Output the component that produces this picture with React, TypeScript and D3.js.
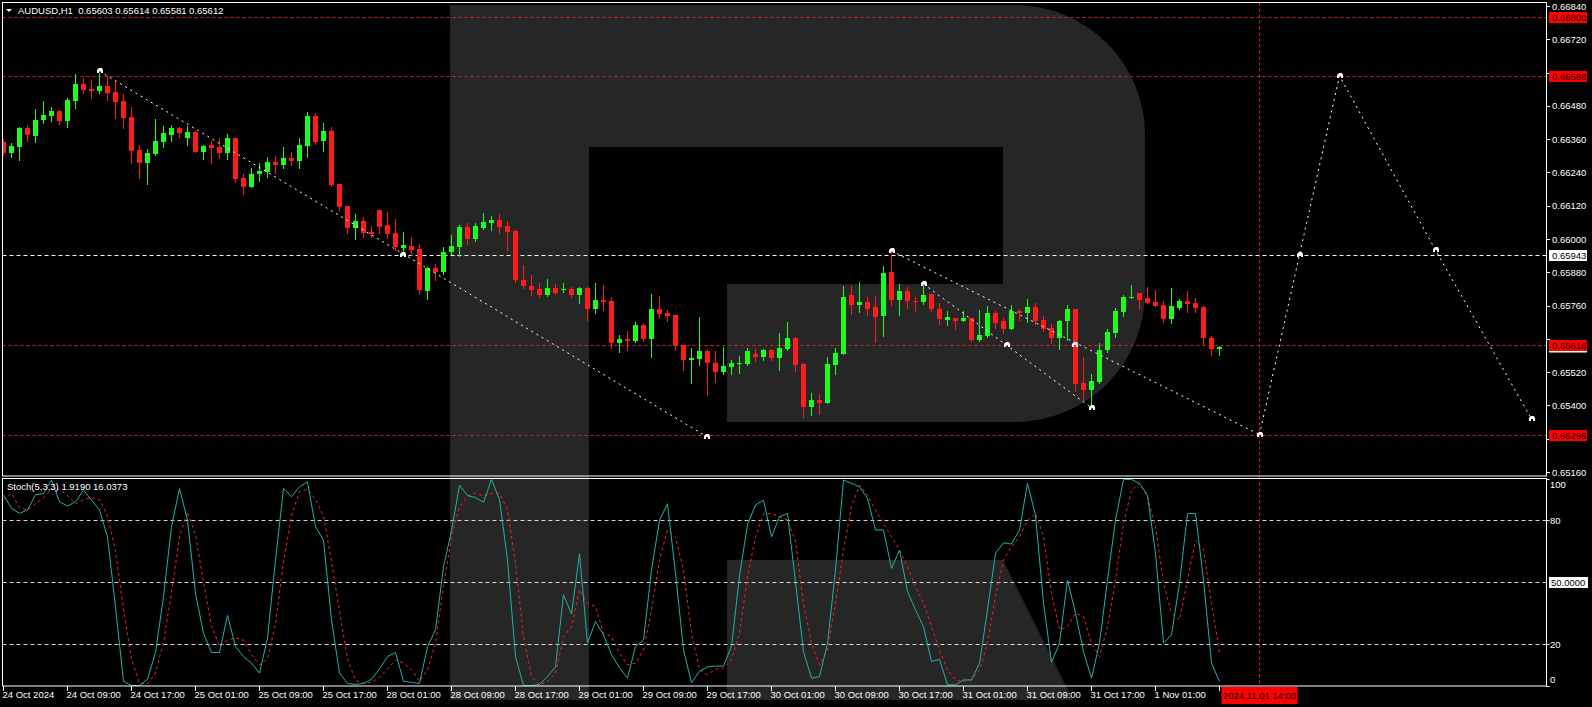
import React from "react";
import * as d3 from "d3";

const W = 1592;
const H = 707;

const opens = [0.6635,0.6631,0.66331,0.664,0.66371,0.66429,0.66443,0.66461,0.66425,0.66497,0.66559,0.66541,0.66533,0.66551,0.6653,0.66497,0.6644,0.66321,0.66274,0.66306,0.6635,0.66375,0.664,0.66364,0.66386,0.66314,0.66339,0.66331,0.6631,0.66364,0.6622,0.66187,0.66234,0.66241,0.66277,0.66267,0.66292,0.66281,0.66335,0.66443,0.66353,0.66389,0.66198,0.66119,0.6604,0.66065,0.66025,0.66104,0.6605,0.66022,0.65968,0.65975,0.65964,0.65813,0.65896,0.65881,0.65953,0.65971,0.66043,0.66,0.6604,0.66058,0.66068,0.66047,0.66029,0.65852,0.65831,0.6582,0.65798,0.65823,0.65816,0.6582,0.65798,0.65823,0.65748,0.6578,0.65777,0.65625,0.6564,0.65632,0.6569,0.6564,0.65748,0.65733,0.65726,0.65618,0.65564,0.65568,0.65596,0.65553,0.65521,0.65539,0.6555,0.6555,0.65586,0.65575,0.656,0.65571,0.65604,0.65643,0.6555,0.65395,0.6542,0.65409,0.65546,0.65586,0.65798,0.65762,0.65773,0.65755,0.65723,0.65881,0.6578,0.65813,0.65777,0.65773,0.65802,0.65748,0.65708,0.65715,0.65705,0.65715,0.65636,0.6565,0.65733,0.65705,0.65676,0.65741,0.65733,0.65755,0.65708,0.65679,0.65643,0.65705,0.65748,0.65481,0.65456,0.65485,0.656,0.65661,0.65737,0.65787,0.65805,0.65787,0.65773,0.65762,0.65712,0.65751,0.65777,0.65769,0.65755,0.65643,0.65603];
const highs = [0.6636,0.66346,0.66405,0.6641,0.66468,0.66497,0.66476,0.66465,0.66508,0.66595,0.6658,0.66573,0.666,0.66587,0.66569,0.66523,0.66476,0.66339,0.66324,0.66432,0.66407,0.66411,0.66404,0.66407,0.66389,0.66339,0.66353,0.66364,0.66378,0.66364,0.66234,0.66256,0.66274,0.66295,0.66299,0.66331,0.66314,0.66364,0.66458,0.66454,0.66418,0.66404,0.66198,0.66119,0.6609,0.66079,0.66047,0.66104,0.66097,0.66072,0.66025,0.66007,0.65982,0.65899,0.6591,0.65971,0.66014,0.6605,0.66058,0.66058,0.66094,0.66083,0.6609,0.66065,0.66032,0.65906,0.6587,0.65841,0.65856,0.65838,0.65841,0.65827,0.65827,0.65827,0.65841,0.65834,0.65791,0.65654,0.65668,0.65701,0.65694,0.65802,0.65795,0.65744,0.65726,0.65618,0.65607,0.65719,0.65604,0.65596,0.65611,0.65564,0.65578,0.65607,0.65604,0.65604,0.65604,0.65661,0.65701,0.65647,0.65553,0.65445,0.65441,0.65575,0.65607,0.65831,0.65831,0.65845,0.65791,0.65795,0.65903,0.65957,0.65838,0.65827,0.65791,0.65834,0.65802,0.65769,0.65741,0.65715,0.65741,0.65715,0.65744,0.65759,0.65741,0.65715,0.65762,0.65748,0.65784,0.65769,0.65723,0.65694,0.65708,0.65762,0.65748,0.65575,0.65514,0.65625,0.65676,0.65751,0.65798,0.65834,0.65805,0.65827,0.65816,0.65777,0.65823,0.65784,0.65813,0.65787,0.65759,0.6565,0.65614];
const lows = [0.66303,0.66295,0.66285,0.66353,0.6635,0.66418,0.66425,0.66414,0.66404,0.66472,0.66526,0.66508,0.66526,0.66501,0.66436,0.664,0.66274,0.6622,0.66198,0.66303,0.66331,0.66353,0.66368,0.66339,0.66314,0.66288,0.66274,0.66292,0.66288,0.66205,0.66162,0.66187,0.66209,0.66223,0.66238,0.66256,0.66267,0.66256,0.66295,0.66342,0.66317,0.66191,0.66104,0.66022,0.66,0.66007,0.66007,0.66022,0.66004,0.6596,0.65942,0.65942,0.65802,0.65784,0.65852,0.65874,0.65946,0.65939,0.65982,0.65993,0.66036,0.66032,0.66022,0.6596,0.65845,0.65823,0.65798,0.65791,0.65795,0.65802,0.65809,0.65791,0.65769,0.65708,0.65733,0.65744,0.65607,0.65593,0.656,0.65629,0.65632,0.65575,0.65715,0.65705,0.656,0.65528,0.65481,0.65546,0.65438,0.65485,0.65514,0.65514,0.65517,0.65546,0.65561,0.65564,0.65564,0.65528,0.656,0.65524,0.65359,0.65366,0.6537,0.65409,0.65514,0.65586,0.6573,0.65737,0.65726,0.65629,0.65651,0.65762,0.65726,0.65751,0.65741,0.65766,0.65741,0.65694,0.6569,0.65676,0.65705,0.65632,0.65632,0.65647,0.65679,0.65661,0.65676,0.65708,0.65701,0.65694,0.65669,0.65625,0.65604,0.65636,0.65452,0.6542,0.65391,0.65481,0.65593,0.65647,0.65723,0.65787,0.65748,0.65769,0.65759,0.65701,0.65697,0.65748,0.65737,0.65737,0.65618,0.65581,0.65581];
const closes = [0.66309,0.66335,0.664,0.66375,0.66429,0.66447,0.66461,0.66425,0.66501,0.66559,0.66537,0.66533,0.66551,0.66526,0.66494,0.66436,0.66317,0.66274,0.6631,0.66353,0.66382,0.664,0.66382,0.66386,0.66314,0.66335,0.66328,0.6631,0.66364,0.66216,0.66187,0.66234,0.66245,0.66277,0.66267,0.66292,0.66281,0.66339,0.66443,0.6635,0.66389,0.66195,0.66115,0.6604,0.66065,0.66022,0.66018,0.66043,0.66018,0.65971,0.65978,0.6596,0.65816,0.65896,0.65881,0.65953,0.65975,0.66043,0.66,0.66047,0.66061,0.66068,0.66043,0.66025,0.65852,0.65831,0.65816,0.65798,0.65823,0.65805,0.6582,0.65798,0.65823,0.65748,0.6578,0.65773,0.65625,0.6564,0.65632,0.6569,0.6564,0.65748,0.6573,0.65723,0.65614,0.65564,0.65571,0.65596,0.65553,0.65521,0.65542,0.65553,0.65553,0.65596,0.65575,0.656,0.65571,0.65607,0.65643,0.65546,0.65395,0.6542,0.65409,0.6555,0.65589,0.65791,0.65762,0.65773,0.65748,0.65719,0.65877,0.6578,0.65813,0.65777,0.65773,0.65798,0.65748,0.65712,0.65719,0.65705,0.65715,0.65636,0.65654,0.65733,0.65697,0.65676,0.65741,0.65733,0.65755,0.65705,0.65676,0.65643,0.65705,0.65748,0.65478,0.65456,0.65488,0.656,0.65665,0.65741,0.65791,0.65791,0.6578,0.65769,0.65759,0.65712,0.65759,0.65777,0.65766,0.65751,0.65643,0.65603,0.65612];

const stochK = [92.3,85.8,83.4,85,92.3,93,99.5,89,86.9,89,94.6,89.8,85,72,38,2,0,0,3,16,43,77,95.4,80,44.6,25.3,16,16,34,18.8,14,10.8,6,23,60.8,95.4,91.4,96.2,98.6,76.9,70.4,31.7,6,1,0.5,1,3,8,14,16,2,1.5,1,18.8,27,57.5,75,97,92,91,88.7,99.8,90,60.8,14,0,0,0.5,4.3,9,44,34.6,63.8,20.5,31,24.5,15,8.5,3.6,19,22,56,80,88,54.5,17.3,1.3,7,9,9.4,9.4,19,53,78,87.4,89.8,72,81.7,83.3,50,16.4,3.5,4.3,20.4,56,99.5,97.9,96.2,90.6,75.3,75.3,56.7,65.6,45.5,36.6,28.5,11.6,12.7,0.3,0.3,2.7,2.7,10.8,36.6,64,69.1,68.5,75.3,97.9,82.5,39.8,11.2,20.5,51.1,35,16.4,3.5,20.5,51.1,80.1,99.8,99.8,97.9,92.2,64,20.5,24.5,49.5,83.3,83.3,51.1,10.8,1.919];
const stochD = [90,93,86,85,88,91,95,95,92,88,90,91,90,82,65,37,13,1,1,6,21,45,72,84,73,50,29,19,22,23,22,15,10,13,30,60,82,94,95,90,82,60,36,13,2.5,1,1.5,4,8,12.4,10.8,7.6,2,7.6,20.4,48,72,86.6,91.4,93.3,91.7,93,93,85,59,23.7,4.3,0.3,1.9,6,23.7,28.5,46.3,39.8,38.2,25.3,23.7,15.6,10,10.8,17.2,36.6,60.8,75.3,72,55.9,25.3,7.6,5.2,7.9,8.4,12.4,25.3,52.7,72,83.3,83.3,81.7,80.1,70,39.8,20.5,10,17.2,39.8,65.6,86.6,97,92.2,85,78.5,72,65.6,57.5,47.9,39.8,28.5,17.2,7.6,2.7,1.9,2.7,7.6,20.5,43.1,60.8,67.2,72,80.1,83.3,72,44.7,27,28.5,35,33.4,20.5,14,28.5,51.1,78.5,94.6,97.9,91.4,76.9,49.5,35,31.7,51.1,70.4,65.6,39.8,16.0373];

const timeLabels = ["24 Oct 2024","24 Oct 09:00","24 Oct 17:00","25 Oct 01:00","25 Oct 09:00","25 Oct 17:00","28 Oct 01:00","28 Oct 09:00","28 Oct 17:00","29 Oct 01:00","29 Oct 09:00","29 Oct 17:00","30 Oct 01:00","30 Oct 09:00","30 Oct 17:00","31 Oct 01:00","31 Oct 09:00","31 Oct 17:00","1 Nov 01:00","1 Nov 09:00"];
const priceTicks = [0.6516,0.6528,0.654,0.6552,0.6564,0.6576,0.6588,0.66,0.6612,0.6624,0.6636,0.6648,0.666,0.6672,0.6684];
const stochTicks = ["100","80","20","0"];
const redLevels = [0.668, 0.66588, 0.65618, 0.65295];
const whiteLevels = [0.65943];
const trend1 = [[12, 0.66605], [88, 0.65286]];
const trend2 = [[111, 0.65957], [157, 0.65295]];
const trend3 = [[115, 0.65838], [136, 0.65391]];
const forecast = [[157, 0.65295], [162, 0.65943], [167, 0.66588], [179, 0.6596], [191, 0.65351]];
const markers = [[12, 0.66605], [49.9, 0.65943], [87.9, 0.65286], [111, 0.65957], [115, 0.65838], [125.4, 0.65618], [133.9, 0.65618], [136, 0.65391], [157, 0.65295], [162, 0.65943], [167, 0.66588], [179, 0.6596], [191, 0.65351]];
const cursorBar = 157;
const cursorLabel = "2024.11.01 14:00";
const title = "AUDUSD,H1  0.65603 0.65614 0.65581 0.65612";
const stochTitle = "Stoch(5,3,3) 1.9190 16.0373";

const FONT = "'Liberation Sans', Arial, sans-serif";
const GREEN = "#1cff1c";
const RED = "#ff1c1c";
const LVL_RED = "#e02020";

export default function App() {
  const x = d3.scaleLinear().domain([0, 1]).range([3.5, 11.5]);
  const y = d3.scaleLinear().domain([0.6516, 0.6684]).range([472, 6]);
  const ys = d3.scaleLinear().domain([0, 100]).range([685.5, 479]);
  const mainL = 2.5, mainR = 1546.5, mainT = 2.5, mainB = 476;
  const stT = 478.5, stB = 686;
  const axX = 1549;

  const line = d3.line<number[]>().x(d => x(d[0])).y(d => y(d[1]));
  const kLine = d3.line<number>().x((_, i) => x(i)).y(d => ys(d))(stochK) || "";
  const dLine = d3.line<number>().x((_, i) => x(i)).y(d => ys(d))(stochD) || "";

  const fmt = d3.format(".5f");
  const boxed = [...redLevels, ...whiteLevels].map(p => y(p));
  const visibleTicks = priceTicks.filter(p => boxed.every(b => Math.abs(b - y(p)) > 7.5));
  const cursorX = x(cursorBar);

  return (
    <svg width={W} height={H} style={{ display: "block", position: "absolute", left: 0, top: 0, background: "#000" }}>
      <rect x={0} y={0} width={W} height={H} fill="#000" />
      <defs>
        <clipPath id="mainClip"><rect x={mainL} y={mainT} width={mainR - mainL} height={mainB - mainT} /></clipPath>
        <clipPath id="stClip"><rect x={mainL} y={stT} width={mainR - mainL} height={stB - stT} /></clipPath>
      </defs>
      {/* watermark */}
      <path d="M450,5 H1015 A130,130 0 0 1 1145,135 V292 A130,130 0 0 1 1015,422 H727 V284 H1003 V147 H589 V700 H450 Z" fill="#262626" />
      <path d="M727,560 H1003 L1073,700 H727 Z" fill="#262626" />

      {/* main panel */}
      <g clipPath="url(#mainClip)">
        {redLevels.map((p, k) => (
          <line key={"rl" + k} x1={mainL} x2={mainR} y1={Math.round(y(p)) + 0.5} y2={Math.round(y(p)) + 0.5} stroke={LVL_RED} strokeDasharray="3 3" />
        ))}
        {whiteLevels.map((p, k) => (
          <line key={"wl" + k} x1={mainL} x2={mainR} y1={Math.round(y(p)) + 0.5} y2={Math.round(y(p)) + 0.5} stroke="#fff" strokeDasharray="4 3" />
        ))}
        {opens.map((o, i) => {
          const c = closes[i];
          const up = c >= o;
          const col = up ? GREEN : RED;
          const cx = x(i);
          const top = Math.round(y(Math.max(o, c)));
          const bot = Math.round(y(Math.min(o, c)));
          return (
            <g key={"c" + i} shapeRendering="crispEdges">
              <line x1={cx} x2={cx} y1={Math.round(y(highs[i]))} y2={Math.round(y(lows[i])) + 1} stroke={col} />
              <rect x={cx - 2.5} y={top} width={5} height={Math.max(1, bot - top)} fill={col} />
            </g>
          );
        })}
        {[trend1, trend2, trend3, forecast].map((t, k) => (
          <path key={"t" + k} d={line(t as any) || ""} fill="none" stroke="#fff" strokeWidth={1} strokeDasharray="2 4" />
        ))}
        {markers.map((m, k) => {
          const mx = Math.round(x(m[0]));
          const my = Math.round(y(m[1]));
          return (
            <path key={"m" + k} d={`M${mx - 3},${my + 2} L${mx - 3},${my - 1} L${mx - 1},${my - 3} L${mx + 2},${my - 3} L${mx + 3},${my - 1} L${mx + 3},${my + 2} L${mx + 1},${my + 2} L${mx + 1},${my} L${mx - 1},${my} L${mx - 1},${my + 2} Z`} fill="#fff" />
          );
        })}
      </g>

      {/* stoch panel */}
      <g clipPath="url(#stClip)">
        {[80, 50, 20].map(v => (
          <line key={"sl" + v} x1={mainL} x2={mainR} y1={Math.round(ys(v)) + 0.5} y2={Math.round(ys(v)) + 0.5} stroke="#d8d8d8" strokeDasharray="4 3" />
        ))}
        <path d={dLine} fill="none" stroke="#ff2020" strokeWidth={1} strokeDasharray="3 3" />
        <path d={kLine} fill="none" stroke="#20b2aa" strokeWidth={1} />
      </g>

      {/* cursor vertical line */}
      <line x1={cursorX} x2={cursorX} y1={mainT} y2={stB} stroke={LVL_RED} strokeDasharray="3 3" />

      {/* frames */}
      <rect x={mainL} y={mainT} width={mainR - mainL} height={mainB - mainT} fill="none" stroke="#fff" />
      <rect x={mainL} y={stT} width={mainR - mainL} height={stB - stT} fill="none" stroke="#fff" />

      {/* title */}
      <path d="M6,9 L12,9 L9,12 Z" fill="#fff" />
      <text x={18} y={13.5} fill="#fff" fontFamily={FONT} fontSize={9.5} style={{ whiteSpace: "pre" }}>{title}</text>
      <text x={7} y={490} fill="#fff" fontFamily={FONT} fontSize={9.5}>{stochTitle}</text>

      {/* price axis */}
      {priceTicks.map((p, k) => (
        <line key={"ptl" + k} x1={mainR} x2={mainR + 3.5} y1={Math.round(y(p)) + 0.5} y2={Math.round(y(p)) + 0.5} stroke="#fff" />
      ))}
      {visibleTicks.map((p, k) => (
        <text key={"pt" + k} x={1552} y={y(p) + 3.5} fill="#fff" fontFamily={FONT} fontSize={9.5}>{fmt(p)}</text>
      ))}
      {redLevels.map((p, k) => (
        <g key={"rb" + k}>
          <rect x={axX} y={Math.round(y(p)) - 5} width={38} height={11} fill="#ff0000" />
          <text x={1552} y={Math.round(y(p)) + 4} fill="#2a0000" fontFamily={FONT} fontSize={9.5}>{fmt(p)}</text>
        </g>
      ))}
      <rect x={axX} y={Math.round(y(redLevels[2])) + 6} width={38} height={1.5} fill="#fff" />
      {whiteLevels.map((p, k) => (
        <g key={"wb" + k}>
          <rect x={axX} y={Math.round(y(p)) - 5} width={38} height={11} fill="#fff" />
          <text x={1552} y={Math.round(y(p)) + 4} fill="#000" fontFamily={FONT} fontSize={9.5}>{fmt(p)}</text>
        </g>
      ))}

      {/* stoch axis */}
      {stochTicks.map((s, k) => {
        const v = +s;
        const cy = Math.min(Math.max(ys(v), 484), 679);
        return (
          <g key={"st" + k}>
            <line x1={mainR} x2={mainR + 3} y1={Math.round(ys(v)) + 0.5} y2={Math.round(ys(v)) + 0.5} stroke="#fff" />
            <text x={1550} y={cy + 3.5} fill="#fff" fontFamily={FONT} fontSize={9.5}>{s}</text>
          </g>
        );
      })}
      <rect x={axX} y={Math.round(ys(50)) - 5} width={39} height={11} fill="#fff" />
      <text x={1551} y={Math.round(ys(50)) + 4} fill="#000" fontFamily={FONT} fontSize={9.5}>50.0000</text>

      {/* time axis */}
      {timeLabels.map((t, k) => {
        const tx = x(k * 8);
        const hidden = Math.abs(tx - cursorX) < 60;
        return (
          <g key={"tl" + k}>
            <line x1={tx} x2={tx} y1={stB} y2={stB + 5} stroke="#fff" />
            {hidden ? null : <text x={tx - 1} y={698} fill="#fff" fontFamily={FONT} fontSize={9.5}>{t}</text>}
          </g>
        );
      })}
      <rect x={cursorX - 38} y={687} width={76} height={17} fill="#ff0000" />
      <text x={cursorX} y={698.5} textAnchor="middle" fill="#000" fontFamily={FONT} fontSize={9.5}>{cursorLabel}</text>
    </svg>
  );
}
